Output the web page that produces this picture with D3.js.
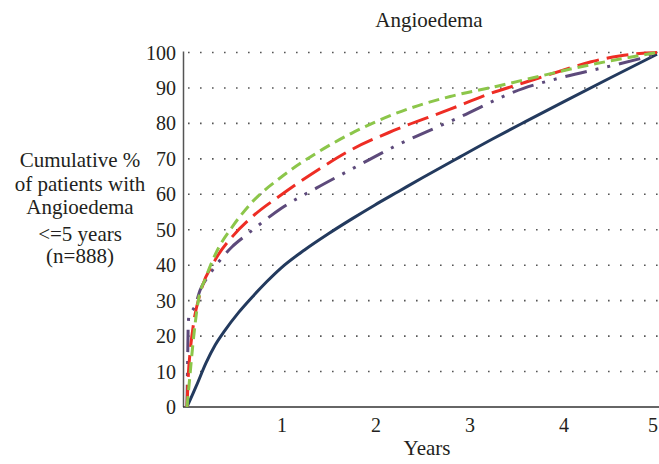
<!DOCTYPE html>
<html>
<head>
<meta charset="utf-8">
<script src="https://cdn.jsdelivr.net/npm/d3@7"></script>
<style>
    body { margin: 0; background: #fff; }
</style>
</head>
<body>
<div id="chart"></div>
<script>
// values (years, cumulative %)
const xTicks = [1, 2, 3, 4, 5];
const yTicks = [0, 10, 20, 30, 40, 50, 60, 70, 80, 90, 100];
const yLabelLines = ["Cumulative %", "of patients with", "Angioedema", "<=5 years", "(n=888)"];

const solidYears = [0, 0.05, 0.1, 0.2, 0.3, 0.4, 0.55, 0.7, 0.85, 1, 1.25, 1.5, 1.75, 2, 2.25, 2.5, 2.9, 3.25, 3.6, 4, 4.5, 5];
const solidPct = [0, 3, 6, 12.3, 17.5, 21.5, 26.7, 31.2, 35.4, 39.2, 44.3, 48.8, 53, 57, 60.8, 64.6, 70.5, 75.6, 80.5, 86, 92.8, 99.5];

const greenYears = [0, 0.03, 0.06, 0.12, 0.2, 0.3, 0.5, 0.7, 1, 1.4, 1.75, 2.2, 2.8, 3.3, 3.8, 4.3, 4.7, 5];
const greenPct = [0, 8.5, 17, 30, 36.5, 43, 51.5, 58, 64.8, 72, 77.2, 82.6, 87.6, 90.5, 93.6, 96.6, 98.6, 100];

const redYears = [0, 0.015, 0.035, 0.07, 0.14, 0.3, 0.48, 0.7, 1, 1.4, 1.75, 2.2, 2.8, 3.2, 3.6, 4, 4.3, 4.6, 4.85, 5];
const redPct = [0, 9.5, 16, 23.6, 32, 41.5, 48, 53.8, 59.8, 67, 72.6, 78, 84, 88.2, 91.6, 95, 97.4, 99, 99.8, 100];

const purpleYears = [0, 0.004, 0.008, 0.012, 0.02, 0.04, 0.085, 0.14, 0.23, 0.37, 0.48, 0.62, 0.72, 1, 1.38, 1.73, 2.2, 2.87, 3.58, 3.95, 4.57, 5];
const purplePct = [0, 8, 15, 22, 25.5, 26.5, 28.5, 33, 37, 42, 45.2, 48.3, 50.4, 56, 61.8, 66.8, 73.4, 81.4, 89.9, 92.7, 96.6, 99.5];

const width = 659;
const height = 464;
const ink = "#231f20";

const x = d3.scaleLinear().domain([0, 5]).range([187, 657]);
const y = d3.scaleLinear().domain([0, 100]).range([407, 52.5]);

const svg = d3.select("#chart")
    .append("svg")
    .attr("width", width)
    .attr("height", height)
    .attr("font-family", "serif");

// dotted horizontal grid
svg.append("g")
    .selectAll("line")
    .data(yTicks.filter(d => d > 0))
    .join("line")
    .attr("x1", 188)
    .attr("x2", 659)
    .attr("y1", d => y(d))
    .attr("y2", d => y(d))
    .attr("stroke", "#555")
    .attr("stroke-width", 1.6)
    .attr("stroke-dasharray", "1.6,10.4");

// axes lines
svg.append("line")
    .attr("x1", 183.5).attr("x2", 183.5)
    .attr("y1", y(100) - 1).attr("y2", y(0))
    .attr("stroke", "#555").attr("stroke-width", 1.5);

svg.append("line")
    .attr("x1", 183).attr("x2", 659)
    .attr("y1", y(0)).attr("y2", y(0))
    .attr("stroke", "#333").attr("stroke-width", 1.5);

function label(sel, size) {
    return sel.style("font-family", "Times New Roman")
        .style("font-size", size + "px")
        .attr("fill", ink);
}

// tick labels
svg.append("g")
    .selectAll("text")
    .data(yTicks)
    .join("text")
    .call(label, 20)
    .attr("x", 176)
    .attr("y", d => y(d) + 7)
    .attr("text-anchor", "end")
    .text(d => d);

svg.append("g")
    .selectAll("text")
    .data(xTicks)
    .join("text")
    .call(label, 20)
    .attr("x", d => Math.min(x(d) + 1, 653))
    .attr("y", 432)
    .attr("text-anchor", "middle")
    .text(d => d);

// titles
svg.append("text")
    .call(label, 21)
    .attr("x", 429)
    .attr("y", 27)
    .attr("text-anchor", "middle")
    .text("Angioedema");

svg.append("text")
    .call(label, 21)
    .attr("x", 427)
    .attr("y", 455)
    .attr("text-anchor", "middle")
    .text("Years");

const labelY = [167, 191, 214, 241, 263];
svg.append("g")
    .selectAll("text")
    .data(yLabelLines)
    .join("text")
    .call(label, 21)
    .attr("x", 80)
    .attr("y", (d, i) => labelY[i])
    .attr("text-anchor", "middle")
    .text(d => d);

// curves
const line = d3.line()
    .x(d => x(d[0]))
    .y(d => y(d[1]))
    .curve(d3.curveMonotoneX);

const series = [
    { years: solidYears, pct: solidPct, color: "#233a5e", dash: null },
    { years: purpleYears, pct: purplePct, color: "#5d4a7b", dash: "22,9,3,9,3,9" },
    { years: redYears, pct: redPct, color: "#ee2d24", dash: "22,8" },
    { years: greenYears, pct: greenPct, color: "#8cc64a", dash: "11,6" }
];

svg.append("g")
    .selectAll("path")
    .data(series)
    .join("path")
    .attr("d", s => line(d3.zip(s.years, s.pct)))
    .attr("fill", "none")
    .attr("stroke", s => s.color)
    .attr("stroke-width", 3)
    .attr("stroke-dasharray", s => s.dash);
</script>
</body>
</html>
